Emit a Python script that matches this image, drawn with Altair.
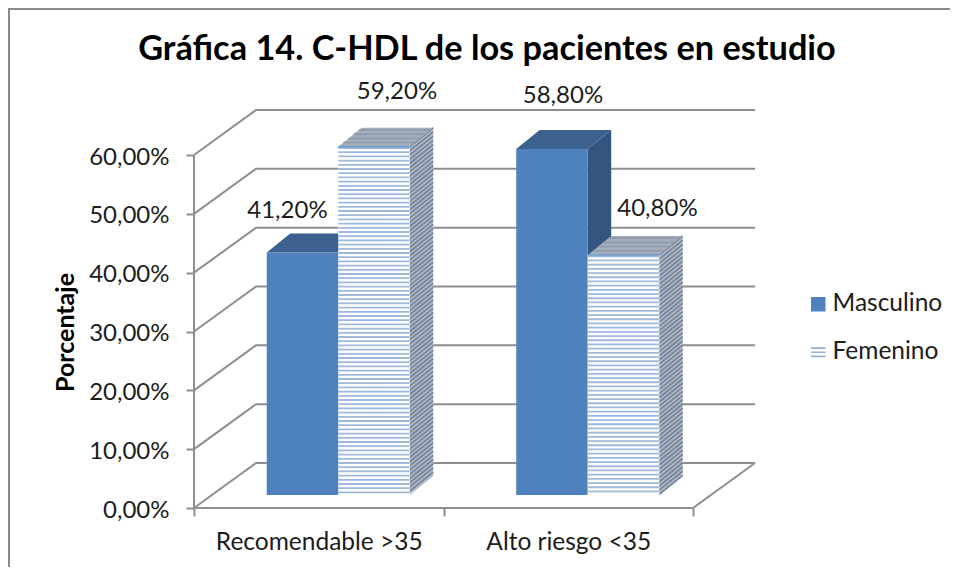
import altair as alt
import numpy as np
import pandas as pd

categories = ["Recomendable >35", "Alto riesgo <35"]
series = ["Masculino", "Femenino"]
masculino = [41.2, 58.8]
femenino = [59.2, 40.8]
y_ticks = [0, 10, 20, 30, 40, 50, 60]
label_texts = {41.2: "41,20%", 59.2: "59,20%", 58.8: "58,80%", 40.8: "40,80%"}

PX_X = 249.5      # pixels per category
PX_Y = 5.883      # pixels per percent
WALL_X, WALL_Y = 62 / PX_X, 45 / PX_Y      # depth of the floor
DEP_X, DEP_Y = 23.5 / PX_X, 19 / PX_Y      # depth of a bar
BASE = 13 / PX_Y  # bars stand this far up the floor
BAR_START = 0.2915
BAR_W = 0.2865
STRIPE = 4.2 / PX_Y
FONT = "Lato"
GRID = "#8e8e8e"
TXT = "#1c1c1c"

xs = alt.Scale(domain=[0, 756 / PX_X], nice=False, zero=False)
ys = alt.Scale(domain=[0, 408 / PX_Y], nice=False, zero=False)

axis_y = alt.Axis(
    values=y_ticks,
    domain=False,
    grid=False,
    tickColor=GRID,
    tickWidth=2,
    tickSize=8,
    labelFont=FONT,
    labelFontSize=24,
    labelColor=TXT,
    labelPadding=17,
    labelOffset=2,
    labelExpr="replace(format(datum.value,'.2f'),'.',',')+'%'",
    title="Porcentaje",
    titleFont=FONT,
    titleFontSize=25,
    titleFontWeight="bold",
    titleColor="#000000",
    titleAngle=270,
    titleX=-116,
    titleY=232,
)
axis_x = alt.Axis(
    values=[0, 0.5, 1, 1.5, 2],
    domain=False,
    grid=False,
    tickColor=GRID,
    tickWidth=2,
    tickSize=8,
    tickOpacity=alt.condition("datum.value % 1 == 0", alt.value(1), alt.value(0)),
    labelFont=FONT,
    labelFontSize=24.5,
    labelColor=TXT,
    labelPadding=14,
    labelLimit=400,
    labelAngle=0,
    labelExpr=f"datum.value == 0.5 ? '{categories[0]}' : datum.value == 1.5 ? '{categories[1]}' : ''",
    title=None,
)


def X(f="x", **k):
    return alt.X(f"{f}:Q", scale=xs, axis=axis_x, **k)


def Y(f="y", **k):
    return alt.Y(f"{f}:Q", scale=ys, axis=axis_y, **k)


# walls and floor
grid_rows = []
for v in y_ticks:
    grid_rows += [
        dict(id=f"g{v}", o=0, x=0, y=v),
        dict(id=f"g{v}", o=1, x=WALL_X, y=v + WALL_Y),
        dict(id=f"g{v}", o=2, x=2 + WALL_X, y=v + WALL_Y),
    ]
grid_rows += [
    dict(id="floor", o=0, x=0, y=0),
    dict(id="floor", o=1, x=2, y=0),
    dict(id="floor", o=2, x=2 + WALL_X, y=WALL_Y),
    dict(id="axis", o=0, x=0, y=0),
    dict(id="axis", o=1, x=0, y=max(y_ticks)),
]
grid = (
    alt.Chart(pd.DataFrame(grid_rows))
    .mark_line(color=GRID, strokeWidth=2)
    .encode(x=X(), y=Y(), detail="id:N", order="o:Q")
)


def bar_frame(s_idx, values):
    rows = []
    for c, v in enumerate(values):
        x0 = c + BAR_START + s_idx * BAR_W
        rows.append(dict(c=c, x0=x0, x1=x0 + BAR_W, b=BASE, t=BASE + v))
    return rows


def side_layer(rows, color):
    d = []
    for r in rows:
        d += [
            dict(id=r["c"], x=r["x1"], y=r["t"], y2=r["b"]),
            dict(id=r["c"], x=r["x1"] + DEP_X, y=r["t"] + DEP_Y, y2=r["b"] + DEP_Y),
        ]
    return (
        alt.Chart(pd.DataFrame(d))
        .mark_area(color=color, opacity=1)
        .encode(x=X(), y=Y(), y2="y2:Q", detail="id:N")
    )


def top_layer(rows, color):
    d = []
    for r in rows:
        t, e = r["t"], DEP_Y
        d += [
            dict(id=r["c"], x=r["x0"], y=t, y2=t),
            dict(id=r["c"], x=r["x0"] + DEP_X, y=t + e, y2=t),
            dict(id=r["c"], x=r["x1"], y=t + e, y2=t),
            dict(id=r["c"], x=r["x1"] + DEP_X, y=t + e, y2=t + e),
        ]
    return (
        alt.Chart(pd.DataFrame(d))
        .mark_area(color=color, opacity=1)
        .encode(x=X(), y=Y(), y2="y2:Q", detail="id:N")
    )


def front_layer(rows, color):
    return (
        alt.Chart(pd.DataFrame(rows))
        .mark_rect(color=color, opacity=1)
        .encode(x=X("x0"), x2="x1:Q", y=Y("t"), y2="b:Q")
    )


m_rows = bar_frame(0, masculino)
f_rows = bar_frame(1, femenino)

# stripes of the Femenino bars
front_st, side_st, top_st = [], [], []
for r in f_rows:
    for y in np.arange(r["t"] - STRIPE * 0.3, r["b"], -STRIPE):
        front_st.append(dict(x0=r["x0"], x1=r["x1"], y=y))
    for i, y in enumerate(np.arange(r["t"], r["b"], -STRIPE)):
        side_st += [
            dict(id=f"{r['c']}-{i}", o=0, x=r["x1"], y=y),
            dict(id=f"{r['c']}-{i}", o=1, x=r["x1"] + DEP_X, y=y + DEP_Y),
        ]
    for y in np.arange(r["t"] + STRIPE, r["t"] + DEP_Y, STRIPE):
        frac = (y - r["t"]) / DEP_Y
        top_st.append(
            dict(x0=r["x0"] + frac * DEP_X, x1=r["x1"] + frac * DEP_X, y=y)
        )

front_stripes = (
    alt.Chart(pd.DataFrame(front_st))
    .mark_rule(color="#9db9dc", strokeWidth=1.8)
    .encode(x=X("x0"), x2="x1:Q", y=Y())
)
top_edge = (
    alt.Chart(pd.DataFrame(f_rows))
    .mark_rule(color="#6f98cb", strokeWidth=1.5)
    .encode(x=X("x0"), x2="x1:Q", y=Y("t"))
)
side_stripes = (
    alt.Chart(pd.DataFrame(side_st))
    .mark_line(color="#72849c", strokeWidth=1.7)
    .encode(x=X(), y=Y(), detail="id:N", order="o:Q")
)
top_stripes = (
    alt.Chart(pd.DataFrame(top_st))
    .mark_rule(color="#8e99aa", strokeWidth=1.6)
    .encode(x=X("x0"), x2="x1:Q", y=Y())
)


# data labels (hand-moved in the original, hence one offset each)
def label(s_rows, c, v, dx, dy):
    r = s_rows[c]
    return (
        alt.Chart(pd.DataFrame({"x": [(r["x0"] + r["x1"]) / 2], "y": [r["t"]], "t": [label_texts[v]]}))
        .mark_text(font=FONT, fontSize=24, color=TXT, dx=dx, dy=dy)
        .encode(x=X(), y=Y(), text="t:N")
    )


labels = [
    label(m_rows, 0, masculino[0], -15, -42),
    label(f_rows, 0, femenino[0], 23, -55),
    label(m_rows, 1, masculino[1], 11, -53),
    label(f_rows, 1, femenino[1], 34, -46),
]

# frame of the chart area
frame_left = alt.Chart(pd.DataFrame({"a": [0]})).mark_rule(color="#8a8a8a", strokeWidth=2).encode(
    x=alt.value(-185), y=alt.value(-92), y2=alt.value(467)
)
frame_top = alt.Chart(pd.DataFrame({"a": [0]})).mark_rule(color="#8a8a8a", strokeWidth=2).encode(
    y=alt.value(-91), x=alt.value(-186), x2=alt.value(756)
)

# legend
legend_src = (
    alt.Chart(pd.DataFrame({"x": [0.0], "y": [0.0], "s": [series[0]]}))
    .transform_filter("false")
    .mark_point(filled=True, opacity=1)
    .encode(
        x=X(),
        y=Y(),
        color=alt.Color(
            "s:N",
            scale=alt.Scale(domain=series, range=["#4f81bd", "#8fb0da"]),
            legend=alt.Legend(
                title=None,
                orient="none",
                legendX=612,
                legendY=192,
                symbolSize=210,
                symbolOpacity=1,
                symbolStrokeWidth=0,
                labelFont=FONT,
                labelFontSize=24.5,
                labelColor=TXT,
                labelOffset=2,
                rowPadding=23,
            ),
        ),
        shape=alt.Shape(
            "s:N",
            scale=alt.Scale(
                domain=series,
                range=["square", "M-1,-0.7H1V-0.45H-1Z M-1,-0.12H1V0.12H-1Z M-1,0.45H1V0.7H-1Z"],
            ),
        ),
    )
)

chart = (
    alt.layer(
        frame_left,
        frame_top,
        grid,
        side_layer(m_rows, "#345580"),
        top_layer(m_rows, "#3c618f"),
        front_layer(m_rows, "#4f81bd"),
        side_layer(f_rows, "#b4bbc5"),
        side_stripes,
        top_layer(f_rows, "#a3aebc"),
        top_stripes,
        front_layer(f_rows, "#ffffff"),
        front_stripes,
        top_edge,
        *labels,
        legend_src,
    )
    .properties(
        width=756,
        height=408,
        padding={"left": 186, "top": 92, "right": 0, "bottom": 59},
        autosize=alt.AutoSizeParams(type="none"),
        background="white",
        title=alt.TitleParams(
            "Gráfica 14. C-HDL de los pacientes en estudio",
            font=FONT,
            fontSize=34.3,
            fontWeight="bold",
            color="#000000",
            anchor="middle",
            dx=-85,
            dy=60,
            offset=0,
        ),
    )
    .configure_view(stroke=None)
)

chart.save("out.html", embed_options={"renderer": "svg", "actions": False})
